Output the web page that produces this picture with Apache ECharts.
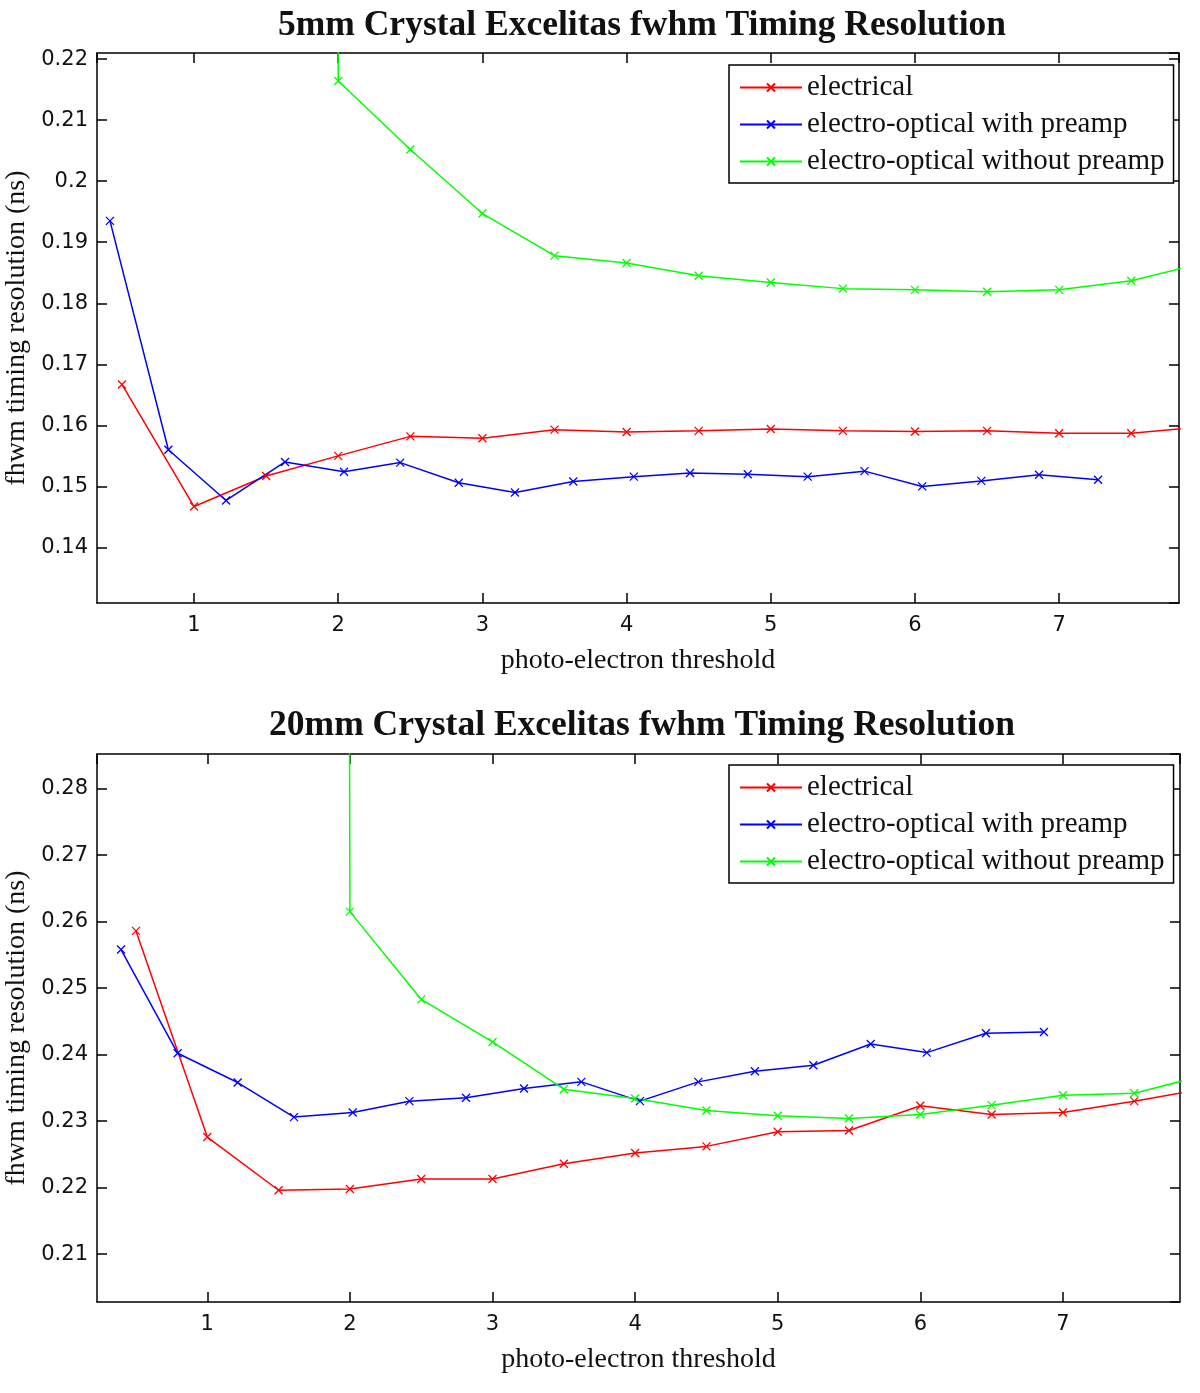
<!DOCTYPE html>
<html>
<head>
<meta charset="utf-8">
<script src="https://cdn.jsdelivr.net/npm/echarts@6/dist/echarts.min.js"></script>
<style>
html,body{margin:0;padding:0;background:#fff;}
#chart{width:1200px;height:1393px;}
</style>
</head>
<body>
<div id="chart"></div>
<script>
// ---------- Data ----------
const seriesNames = ['electrical', 'electro-optical with preamp', 'electro-optical without preamp'];
const seriesColors = ['#ff0000', '#0000ff', '#00ff00'];
const chartTitles = ['5mm Crystal Excelitas fwhm Timing Resolution', '20mm Crystal Excelitas fwhm Timing Resolution'];
const xAxisName = 'photo-electron threshold';
const yAxisName = 'fhwm timing resolution (ns)';

// 5mm crystal
const top_elecX = [0.5, 1.0, 1.5, 2.0, 2.5, 3.0, 3.5, 4.0, 4.5, 5.0, 5.5, 6.0, 6.5, 7.0, 7.5, 8.0];
const top_elecY = [0.1667, 0.1467, 0.1517, 0.1550, 0.1582, 0.1579, 0.1593, 0.1589, 0.1591, 0.1594, 0.1591, 0.1590, 0.1591, 0.1587, 0.1587, 0.1598];
const top_preX = [0.417, 0.822, 1.222, 1.631, 2.04, 2.43, 2.836, 3.226, 3.63, 4.05, 4.44, 4.84, 5.256, 5.65, 6.05, 6.46, 6.86, 7.27];
const top_preY = [0.1935, 0.1560, 0.1477, 0.1540, 0.1524, 0.1539, 0.1506, 0.1490, 0.1508, 0.1516, 0.1522, 0.1520, 0.1516, 0.1525, 0.1500, 0.1509, 0.1519, 0.1511];
const top_noPreX = [1.5, 2.0, 2.5, 3.0, 3.5, 4.0, 4.5, 5.0, 5.5, 6.0, 6.5, 7.0, 7.5, 8.0];
const top_noPreY = [5.0, 0.2164, 0.2052, 0.1947, 0.1878, 0.1866, 0.1845, 0.1834, 0.1824, 0.1822, 0.1819, 0.1822, 0.1837, 0.1866];

// 20mm crystal
const bot_elecX = [0.5, 1.0, 1.5, 2.0, 2.5, 3.0, 3.5, 4.0, 4.5, 5.0, 5.5, 6.0, 6.5, 7.0, 7.5, 8.0];
const bot_elecY = [0.2586, 0.2276, 0.2196, 0.2198, 0.2213, 0.2213, 0.2236, 0.2252, 0.2262, 0.2284, 0.2286, 0.2323, 0.2310, 0.2313, 0.2330, 0.2349];
const bot_preX = [0.395, 0.792, 1.213, 1.608, 2.02, 2.417, 2.814, 3.221, 3.623, 4.034, 4.443, 4.84, 5.25, 5.652, 6.045, 6.46, 6.867];
const bot_preY = [0.2558, 0.2402, 0.2358, 0.2306, 0.2313, 0.2330, 0.2335, 0.2349, 0.2359, 0.2330, 0.2359, 0.2375, 0.2384, 0.2416, 0.2403, 0.2432, 0.2434];
const bot_noPreX = [1.5, 2.0, 2.5, 3.0, 3.5, 4.0, 4.5, 5.0, 5.5, 6.0, 6.5, 7.0, 7.5, 8.0];
const bot_noPreY = [5.0, 0.2615, 0.2483, 0.2419, 0.2348, 0.2334, 0.2316, 0.2308, 0.2304, 0.2310, 0.2324, 0.2339, 0.2342, 0.2369];

// axis ranges
const topXRange = [0.327, 7.831];
const topYRange = [0.1309, 0.2210];
const botXRange = [0.2265, 7.821];
const botYRange = [0.2028, 0.2852];

// ---------- Build ----------
const zip = (xs, ys) => xs.map((x, i) => [x, ys[i]]);
const xMark = 'path://M0,0L10,10M10,0L0,10';
const serifFont = '"Liberation Serif", "DejaVu Serif", serif';
const sansFont = '"DejaVu Sans", sans-serif';
const AX = '#000';

function lineSeries(name, color, data, gi) {
  return {
    type: 'line', name: name, data: data,
    xAxisIndex: gi * 2, yAxisIndex: gi * 2,
    symbol: xMark, symbolSize: 8, showSymbol: true, clip: true,
    lineStyle: { color: color, width: 1.5 },
    itemStyle: { color: color, borderColor: color, borderWidth: 1.3 },
    emphasis: { disabled: true },
    animation: false
  };
}

function xAxes(gi, range) {
  const base = {
    type: 'value', gridIndex: gi, min: range[0], max: range[1], splitNumber: 8,
    axisLine: { show: true, onZero: false, lineStyle: { color: AX, width: 1.5 } },
    axisTick: { show: true, inside: true, length: 10, lineStyle: { color: AX, width: 1.5 } },
    splitLine: { show: false }
  };
  return [
    Object.assign({}, base, {
      position: 'bottom',
      axisLabel: { show: true, showMinLabel: false, showMaxLabel: false, color: '#111', fontFamily: sansFont, fontSize: 21, margin: 12 },
      name: xAxisName, nameLocation: 'middle', nameGap: 44,
      nameTextStyle: { color: '#111', fontFamily: serifFont, fontSize: 28 }
    }),
    Object.assign({}, base, { position: 'top', axisLabel: { show: false } })
  ];
}

function yAxes(gi, range) {
  const base = {
    type: 'value', gridIndex: gi, min: range[0], max: range[1], splitNumber: 9,
    axisLine: { show: true, onZero: false, lineStyle: { color: AX, width: 1.5 } },
    axisTick: { show: true, inside: true, length: 10, lineStyle: { color: AX, width: 1.5 } },
    splitLine: { show: false }
  };
  return [
    Object.assign({}, base, {
      position: 'left',
      axisLabel: { show: true, showMinLabel: false, showMaxLabel: false, color: '#111', fontFamily: sansFont, fontSize: 21, margin: 9 },
      name: yAxisName, nameLocation: 'middle', nameGap: 58,
      nameTextStyle: { color: '#111', fontFamily: serifFont, fontSize: 28 }
    }),
    Object.assign({}, base, { position: 'right', axisLabel: { show: false } })
  ];
}

function legendAt(top) {
  return {
    data: seriesNames, left: 729, top: top, orient: 'vertical',
    backgroundColor: '#fff', borderColor: '#000', borderWidth: 1.5,
    padding: [8, 9, 7, 10], itemGap: 8, itemWidth: 62, itemHeight: 10,
    selectedMode: false,
    textStyle: { color: '#111', fontFamily: serifFont, fontSize: 29, lineHeight: 29 }
  };
}

const option = {
  backgroundColor: '#fff',
  animation: false,
  title: [
    { text: chartTitles[0], left: 637, top: 3, textAlign: 'center',
      textStyle: { fontFamily: serifFont, fontWeight: 'bold', fontSize: 35.5, color: '#111' } },
    { text: chartTitles[1], left: 637, top: 703, textAlign: 'center',
      textStyle: { fontFamily: serifFont, fontWeight: 'bold', fontSize: 35.5, color: '#111' } }
  ],
  legend: [legendAt(65), legendAt(765)],
  grid: [
    { left: 97, top: 53, width: 1082, height: 550, outerBoundsMode: 'none', containLabel: false },
    { left: 97, top: 754, width: 1083, height: 548, outerBoundsMode: 'none', containLabel: false }
  ],
  xAxis: [].concat(xAxes(0, topXRange), xAxes(1, botXRange)),
  yAxis: [].concat(yAxes(0, topYRange), yAxes(1, botYRange)),
  series: [
    lineSeries(seriesNames[0], seriesColors[0], zip(top_elecX, top_elecY), 0),
    lineSeries(seriesNames[1], seriesColors[1], zip(top_preX, top_preY), 0),
    lineSeries(seriesNames[2], seriesColors[2], zip(top_noPreX, top_noPreY), 0),
    lineSeries(seriesNames[0], seriesColors[0], zip(bot_elecX, bot_elecY), 1),
    lineSeries(seriesNames[1], seriesColors[1], zip(bot_preX, bot_preY), 1),
    lineSeries(seriesNames[2], seriesColors[2], zip(bot_noPreX, bot_noPreY), 1)
  ]
};

const chart = echarts.init(document.getElementById('chart'), null, { renderer: 'canvas' });
chart.setOption(option);
</script>
</body>
</html>
